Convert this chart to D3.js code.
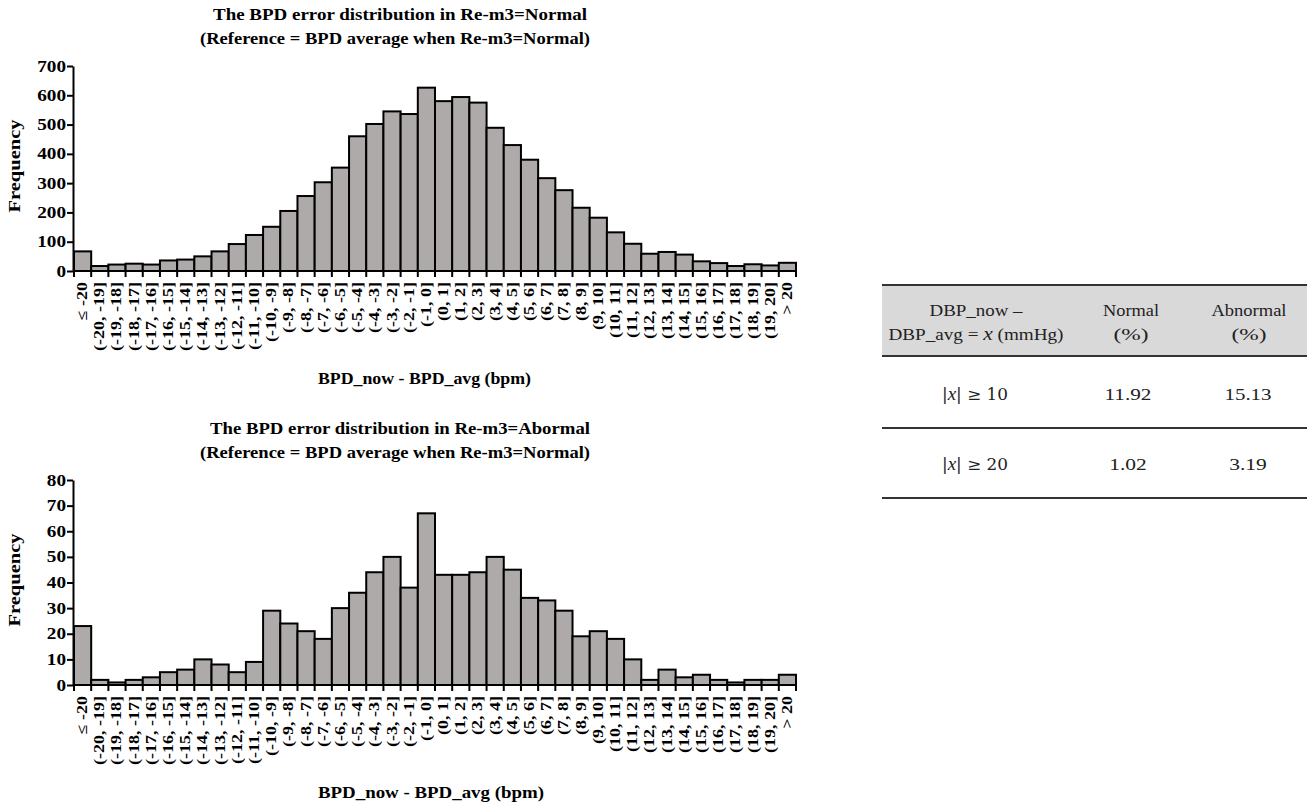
<!DOCTYPE html>
<html>
<head>
<meta charset="utf-8">
<script src="https://cdn.jsdelivr.net/npm/d3@7"></script>
<style>
  body { margin: 0; background: #fff; }
  svg { display: block; }
  text { font-family: "Liberation Serif", "Times New Roman", serif; }
</style>
</head>
<body>
<svg id="canvas" width="1309" height="807"></svg>
<script>
// bins of BPD_now - BPD_avg
const bins = ['≤ -20']
for (let i = -20; i < 20; i++) bins.push('(' + i + ', ' + (i + 1) + ']')
bins.push('> 20')

const normalFreq = [67, 17, 22, 25, 22, 36, 39, 50, 67, 92, 123, 151, 205, 256, 303, 353, 460, 502, 545, 536,
  626, 580, 594, 575, 489, 430, 380, 317, 276, 216, 182, 132, 93, 59, 65, 56, 33, 27, 17, 23, 19, 28]
const abnormalFreq = [23, 2, 1, 2, 3, 5, 6, 10, 8, 5, 9, 29, 24, 21, 18, 30, 36, 44, 50, 38,
  67, 43, 43, 44, 50, 45, 34, 33, 29, 19, 21, 18, 10, 2, 6, 3, 4, 2, 1, 2, 2, 4]

const tableHeader = [['DBP_now –', 'DBP_avg = x (mmHg)'], ['Normal', '(%)'], ['Abnormal', '(%)']]
const tableLimits = ['10', '20']
const tableNormal = ['11.92', '1.02']
const tableAbnormal = ['15.13', '3.19']

const canvas = d3.select('#canvas')

// text helper, width forces the printed length (source figure is stretched)
const addText = (g, str, x, y, size, opts = {}) => {
    const t = g.append('text').attr('x', x).attr('y', y)
        .attr('text-anchor', opts.anchor || 'middle')
        .style('font-size', size + 'px')
        .style('font-weight', opts.bold ? 'bold' : 'normal')
        .attr('fill', opts.fill || '#000')
    if (opts.family) t.style('font-family', opts.family)
    if (opts.width) t.attr('textLength', opts.width).attr('lengthAdjust', 'spacingAndGlyphs')
    t.text(str)
    return t
}

const drawHistogram = (values, yMax, yStep, titleLines, top, xTitleW) => {
    const left = 74, right = 796
    const plotTop = top + 66
    const plotBottom = top + 271
    const g = canvas.append('g')

    const x = d3.scaleBand().domain(bins).range([left, right]).padding(0)
    const xEdge = d3.scaleLinear().domain([0, bins.length]).range([left, right])
    const y = d3.scaleLinear().domain([0, yMax]).range([plotBottom, plotTop])

    // titles
    addText(g, titleLines[0], 400, top + 20, 17, {bold: true, width: titleLines[0].length > 42 ? 380 : 374})
    addText(g, titleLines[1], 395, top + 44, 17, {bold: true, width: 390})

    // bars
    g.selectAll('rect').data(values).enter().append('rect')
        .attr('x', (d, i) => x(bins[i]))
        .attr('y', d => y(d))
        .attr('width', x.bandwidth())
        .attr('height', d => y(0) - y(d))
        .attr('fill', '#aeaaaa')
        .attr('stroke', '#000')
        .attr('stroke-width', 2)

    // y axis
    const yAxis = d3.axisLeft(y).tickValues(d3.range(0, yMax + 1, yStep)).tickSize(6).tickSizeOuter(0)
    const ya = g.append('g').attr('transform', 'translate(' + (left - 1) + ',0)').call(yAxis)
    ya.select('.domain').attr('stroke-width', 2)
    ya.selectAll('line').attr('stroke-width', 2)
    ya.selectAll('text').style('font-weight', 'bold').style('font-size', '16px')
        .style('font-family', '"Liberation Serif", serif').attr('fill', '#000')
        .attr('x', -7 / 1.2).attr('transform', 'scale(1.2,1)')

    // x axis line and ticks at bin edges
    g.append('line').attr('x1', left - 1).attr('x2', right + 1)
        .attr('y1', plotBottom).attr('y2', plotBottom).attr('stroke', '#000').attr('stroke-width', 2)
    g.selectAll('.xtick').data(d3.range(0, bins.length + 1)).enter().append('line')
        .attr('x1', d => xEdge(d)).attr('x2', d => xEdge(d))
        .attr('y1', plotBottom).attr('y2', plotBottom + 6)
        .attr('stroke', '#000').attr('stroke-width', 2)

    // rotated bin labels
    g.selectAll('.xlabel').data(bins).enter().append('text')
        .attr('transform', d => 'translate(' + (x(d) + x.bandwidth() / 2 + 4.5) + ',' + (plotBottom + 11) +
            ') rotate(-90) scale(1,0.8)')
        .attr('text-anchor', 'end')
        .style('font-weight', 'bold').style('font-size', '18px')
        .text(d => d)

    // axis titles
    g.append('text').attr('transform', 'translate(20,' + (top + 166) + ') rotate(-90) scale(1,0.82)')
        .attr('text-anchor', 'middle').style('font-weight', 'bold').style('font-size', '20px')
        .attr('textLength', 93).attr('lengthAdjust', 'spacingAndGlyphs')
        .text('Frequency')
    addText(g, 'BPD_now - BPD_avg (bpm)', 318 + xTitleW / 2, top + 384, 17, {bold: true, width: xTitleW})
}

const drawTable = () => {
    const g = canvas.append('g')
    const left = 882, right = 1307
    const colX = [976, 1131, 1249]
    const lineY = [285, 356, 428, 498]
    g.append('rect').attr('x', left).attr('y', lineY[0]).attr('width', right - left)
        .attr('height', lineY[1] - lineY[0]).attr('fill', '#d9d9d9')
    g.selectAll('.rule').data(lineY).enter().append('line')
        .attr('x1', left).attr('x2', right).attr('y1', d => d).attr('y2', d => d)
        .attr('stroke', '#333').attr('stroke-width', 2)

    const headW = [[93, 175], [56, 35], [75, 35]]
    tableHeader.forEach((lines, c) => {
        lines.forEach((t, r) => {
            const yy = r === 0 ? 316 : 340
            if (t.indexOf(' x ') >= 0) {
                const parts = t.split(' x ')
                const txt = g.append('text').attr('x', colX[c]).attr('y', yy).attr('text-anchor', 'middle')
                    .style('font-size', '16px').attr('fill', '#222')
                    .attr('textLength', headW[c][r]).attr('lengthAdjust', 'spacingAndGlyphs')
                txt.append('tspan').text(parts[0] + ' ')
                txt.append('tspan').style('font-style', 'italic').style('font-size', '18px').text('x')
                txt.append('tspan').text(' ' + parts[1])
            } else {
                addText(g, t, colX[c], yy, 16, {fill: '#222', width: headW[c][r]})
            }
        })
    })
    tableLimits.forEach((lim, r) => {
        const yy = 400 + r * 70
        const t0 = g.append('text').attr('x', 975).attr('y', yy).attr('text-anchor', 'middle')
            .style('font-size', '16px').style('font-family', '"DejaVu Serif", serif').attr('fill', '#222')
            .attr('textLength', 66).attr('lengthAdjust', 'spacingAndGlyphs')
        t0.append('tspan').text('|')
        t0.append('tspan').style('font-style', 'italic').style('font-size', '18px')
            .style('font-family', '"Liberation Serif", serif').text('x')
        t0.append('tspan').text('| ≥ ' + lim)
        const wN = tableNormal[r].length * 9.4
        const wA = tableAbnormal[r].length * 9.4
        addText(g, tableNormal[r], 1128, yy, 17, {fill: '#222', width: wN})
        addText(g, tableAbnormal[r], 1248, yy, 17, {fill: '#222', width: wA})
    })
}

drawHistogram(normalFreq, 700, 100,
    ['The BPD error distribution in Re-m3=Normal', '(Reference = BPD average when Re-m3=Normal)'], 0, 213)
drawHistogram(abnormalFreq, 80, 10,
    ['The BPD error distribution in Re-m3=Abormal', '(Reference = BPD average when Re-m3=Normal)'], 414, 226)
drawTable()
</script>
</body>
</html>
